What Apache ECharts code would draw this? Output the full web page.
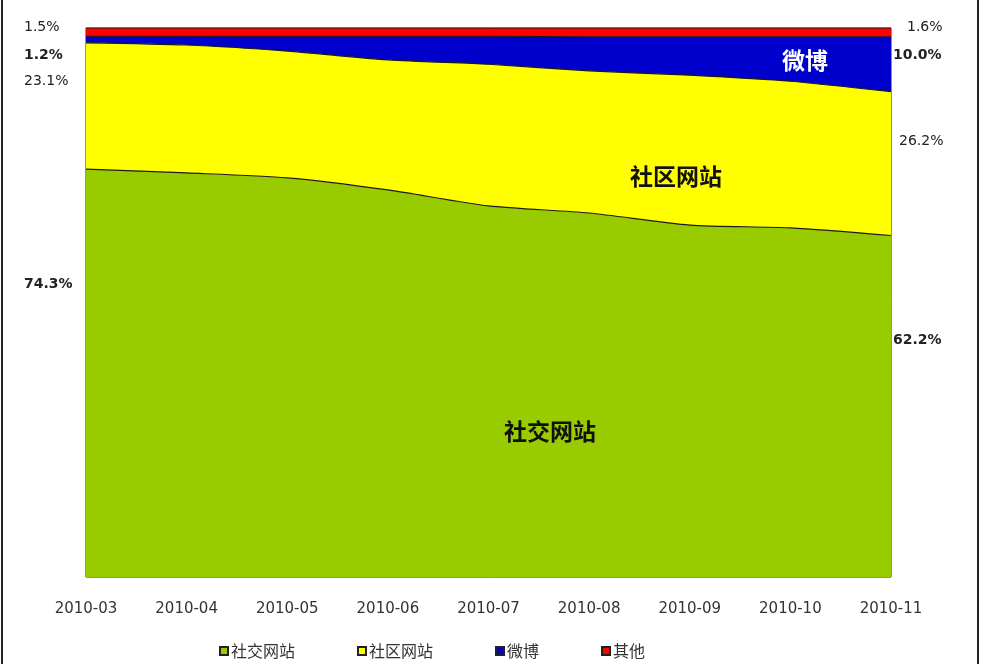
<!DOCTYPE html>
<html>
<head>
<meta charset="utf-8">
<style>
  html, body { margin: 0; padding: 0; background: #fff; }
  #frame { position: absolute; left: 1px; top: 0; width: 974px; height: 664px;
           border-left: 2px solid #222; border-right: 2px solid #222; }
  #chart { position: absolute; left: 0; top: 0; width: 981px; height: 664px; }
</style>
<script src="https://cdn.jsdelivr.net/npm/echarts@6/dist/echarts.min.js"></script>
</head>
<body>
<div id="frame"></div>
<div id="chart"></div>
<script>
// months on the x axis
var months = ["2010-03", "2010-04", "2010-05", "2010-06", "2010-07", "2010-08", "2010-09", "2010-10", "2010-11"];

// share of each type, in percent
var social = [74.3, 73.6, 72.7, 70.5, 67.6, 66.3, 64.1, 63.6, 62.2];
var community = [23.0, 23.3, 23.1, 23.7, 25.8, 25.9, 27.3, 26.7, 26.2];
var weibo = [1.2, 1.6, 2.7, 4.3, 5.1, 6.2, 7.0, 8.1, 10.0];
var other = [1.5, 1.5, 1.5, 1.5, 1.5, 1.6, 1.6, 1.6, 1.6];

var names = ["社交网站", "社区网站", "微博", "其他"];
var colors = ["#99CC00", "#FFFF00", "#0000CC", "#FF0000"];

var font = "Verdana, 'DejaVu Sans', 'Noto Sans CJK SC', sans-serif";
var cjk = "'Noto Sans CJK SC', sans-serif";

var myChart = echarts.init(document.getElementById("chart"));

function areaSeries(name, values, color) {
  return {
    name: name,
    type: "line",
    stack: "total",
    data: values,
    smooth: 0.25,
    symbol: "none",
    lineStyle: { color: "#1a1a1a", width: 1.2 },
    areaStyle: { color: color, opacity: 1 },
    itemStyle: { color: color, borderColor: "#222", borderWidth: 1 }
  };
}

function sideText(x, y, txt, bold) {
  return {
    type: "text",
    left: x,
    top: y,
    z: 100,
    style: {
      text: txt,
      fill: "#222",
      font: (bold ? "bold " : "") + "14px " + font
    }
  };
}

function areaText(x, y, txt, color) {
  return {
    type: "text",
    left: x,
    top: y,
    z: 100,
    style: { text: txt, fill: color, font: "bold 23px " + cjk }
  };
}

var option = {
  animation: false,
  grid: { left: 86, right: 90, top: 28, bottom: 87, show: true, borderColor: "#222", borderWidth: 1, backgroundColor: "transparent" },
  legend: {
    bottom: 0,
    left: 214,
    itemGap: 62,
    itemWidth: 8,
    itemHeight: 8,
    icon: "rect",
    data: names,
    textStyle: { color: "#333", fontSize: 16, fontFamily: cjk, padding: [0, 0, 0, -2] }
  },
  xAxis: {
    type: "category",
    data: months,
    boundaryGap: false,
    axisLine: { show: false },
    axisTick: { show: false },
    axisLabel: { color: "#333", fontSize: 15, fontFamily: font, margin: 25 }
  },
  yAxis: {
    type: "value",
    min: 0,
    max: 100,
    show: false,
    splitLine: { show: false }
  },
  series: [
    areaSeries(names[0], social, colors[0]),
    areaSeries(names[1], community, colors[1]),
    areaSeries(names[2], weibo, colors[2]),
    areaSeries(names[3], other, colors[3])
  ],
  graphic: [
    sideText(24, 20, "1.5%", false),
    sideText(24, 48, "1.2%", true),
    sideText(24, 74, "23.1%", false),
    sideText(24, 277, "74.3%", true),
    sideText(907, 20, "1.6%", false),
    sideText(893, 48, "10.0%", true),
    sideText(899, 134, "26.2%", false),
    sideText(893, 333, "62.2%", true),
    areaText(782, 49, "微博", "#fff"),
    areaText(630, 165, "社区网站", "#111"),
    areaText(504, 420, "社交网站", "#111")
  ]
};

myChart.setOption(option);
</script>
</body>
</html>
